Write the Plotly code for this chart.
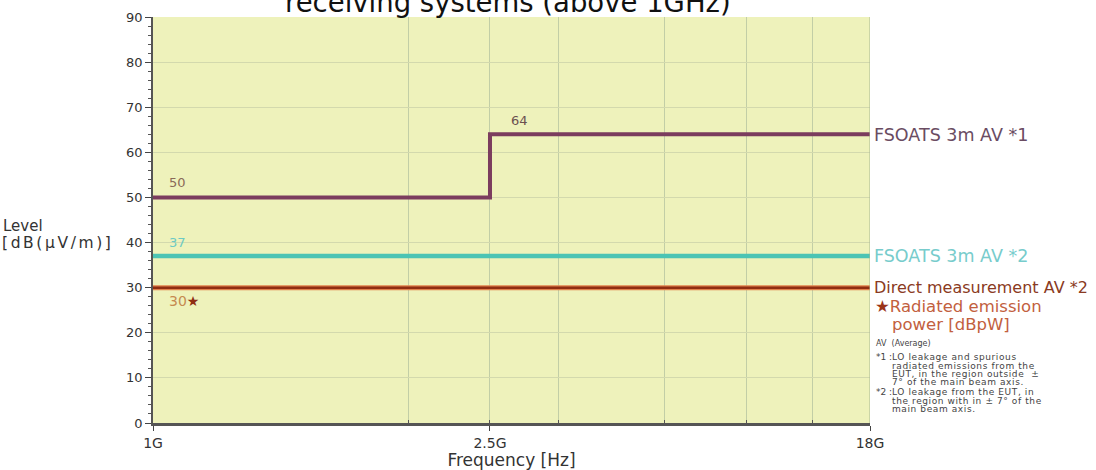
import plotly.graph_objects as go

# ---- data ----
freq_labels = ["1G", "2.5G", "18G"]
fsoats1_levels = [50, 64, 64]          # FSOATS 3m AV *1 (step at 2.5G)
fsoats2_levels = [37, 37, 37]          # FSOATS 3m AV *2
direct_levels = [30, 30, 30]           # Direct measurement AV *2
y_ticks = [0, 10, 20, 30, 40, 50, 60, 70, 80, 90]

# schematic (non-linear) frequency axis: label -> axis position
axis_pos = {"1G": 0.0, "2.5G": 0.47, "18G": 1.0}
grid_pos = [0.356, 0.47, 0.565, 0.713, 0.828, 0.92]

xs = [axis_pos[f] for f in freq_labels]

fig = go.Figure()
fig.add_trace(go.Scatter(x=xs, y=fsoats1_levels, mode="lines", line_shape="hv",
                         line=dict(color="#7b3d5e", width=4), showlegend=False, hoverinfo="skip"))
fig.add_trace(go.Scatter(x=xs, y=fsoats2_levels, mode="lines",
                         line=dict(color="#4cc4b4", width=4.5), showlegend=False, hoverinfo="skip"))
fig.add_trace(go.Scatter(x=xs, y=direct_levels, mode="lines",
                         line=dict(color="#e0804a", width=5), showlegend=False, hoverinfo="skip"))
fig.add_trace(go.Scatter(x=xs, y=direct_levels, mode="lines",
                         line=dict(color="#8f2e12", width=2.5), showlegend=False, hoverinfo="skip"))

FONT = "DejaVu Sans"

fig.update_layout(
    width=1096, height=470,
    margin=dict(l=153, r=226, t=17, b=47, autoexpand=False),
    paper_bgcolor="white",
    plot_bgcolor="#eef2bb",
    font=dict(family=FONT, color="#333333", size=12),
    xaxis=dict(
        range=[0, 1], tickmode="array",
        tickvals=[axis_pos[f] for f in freq_labels], ticktext=freq_labels,
        showgrid=False, zeroline=False,
        showline=True, linecolor="#555555", linewidth=2.5,
        ticks="outside", ticklen=5, tickcolor="#444444",
        tickfont=dict(size=14, color="#333333"),
        minor=dict(tickmode="array", tickvals=grid_pos, showgrid=True,
                   gridcolor="#c2cea6", gridwidth=1, ticks="inside", ticklen=3,
                   tickcolor="#555555"),
        title=dict(text="Frequency [Hz]", font=dict(size=17, color="#333333"), standoff=0),
        fixedrange=True,
    ),
    yaxis=dict(
        range=[0, 90], tickmode="array", tickvals=y_ticks,
        showgrid=True, gridcolor="#d3d9ad", gridwidth=1, zeroline=False,
        showline=True, linecolor="#555555", linewidth=1.5,
        ticks="outside", ticklen=6, tickcolor="#444444",
        tickfont=dict(size=13, color="#333333"),
        minor=dict(dtick=2, ticks="outside", ticklen=3, tickcolor="#555555", showgrid=False),
        fixedrange=True,
    ),
)

# right border of plot area
fig.add_shape(type="line", xref="x", yref="paper", x0=1, x1=1, y0=0, y1=1,
              line=dict(color="#a8b890", width=1))

ann = []
# title (partially cut off at top)
ann.append(dict(text="receiving systems (above 1GHz)", xref="paper", yref="paper",
                x=(508 - 153) / 717, y=1, yshift=-3, xanchor="center", yanchor="bottom",
                showarrow=False, font=dict(size=27.5, color="#111111", family=FONT)))
# y axis label
ann.append(dict(text="Level", xref="paper", yref="y", x=-152 / 717, y=43.6,
                xanchor="left", yanchor="middle", showarrow=False,
                font=dict(size=15, color="#333333")))
ann.append(dict(text="<span style='letter-spacing:2.6px'>[dB(\u03bcV/m)]</span>", xref="paper",
                yref="y", x=-153 / 717, y=40,
                xanchor="left", yanchor="middle", showarrow=False,
                font=dict(size=15.5, color="#333333")))
# value labels
ann.append(dict(text="50", x=0.02, y=fsoats1_levels[0], xref="x", yref="y", xanchor="left",
                yanchor="bottom", yshift=5, showarrow=False, font=dict(size=13, color="#8a6a58")))
ann.append(dict(text="64", x=axis_pos["2.5G"] + 0.027, y=fsoats1_levels[-1], xref="x", yref="y",
                xanchor="left", yanchor="bottom", yshift=4, showarrow=False,
                font=dict(size=13, color="#6b5050")))
ann.append(dict(text="37", x=0.02, y=fsoats2_levels[0], xref="x", yref="y", xanchor="left",
                yanchor="bottom", yshift=4, showarrow=False, font=dict(size=13, color="#6ccac4")))
ann.append(dict(text="30<span style='color:#8f2e12'>\u2605</span>", x=0.02, y=direct_levels[0],
                xref="x", yref="y", xanchor="left", yanchor="top", yshift=-3, showarrow=False,
                font=dict(size=14, color="#c58a50")))

# right-side labels
def rlabel(text, ypx, color, size, xpx=875):
    ann.append(dict(text=text, xref="paper", yref="paper", x=(xpx - 3 - 153) / 717,
                    y=(423 - ypx) / 406, xanchor="left", yanchor="middle", showarrow=False,
                    font=dict(size=size, color=color), align="left"))

rlabel("FSOATS 3m AV *1", 135, "#6a4c62", 17.5)
rlabel("FSOATS 3m AV *2", 256, "#77cccc", 17.5)
rlabel("Direct measurement AV *2", 287, "#8a3a22", 16)
rlabel("<span style='color:#9a3418'>\u2605</span>Radiated emission", 306, "#c2603e", 16.5, 876)
rlabel("power [dBpW]", 324, "#c2603e", 16.5, 893)
rlabel("AV  (Average)", 343, "#444444", 8, 877)
notes = [
    ("*1 :", 357, "LO leakage and spurious"),
    ("", 366, "radiated emissions from the"),
    ("", 374, "EUT, in the region outside  \u00b1"),
    ("", 382, "7\u00b0 of the main beam axis."),
    ("*2 :", 392, "LO leakage from the EUT, in"),
    ("", 401, "the region with in \u00b1 7\u00b0 of the"),
    ("", 409, "main beam axis."),
]
for mark, ypx, txt in notes:
    if mark:
        rlabel(mark, ypx, "#444444", 9, 877)
    rlabel("<span style='letter-spacing:0.6px'>" + txt + "</span>", ypx, "#444444", 9, 893)

fig.update_layout(annotations=ann)
fig.write_html("out.html", post_script="document.body.style.margin='0';",
               config={"displayModeBar": False})
